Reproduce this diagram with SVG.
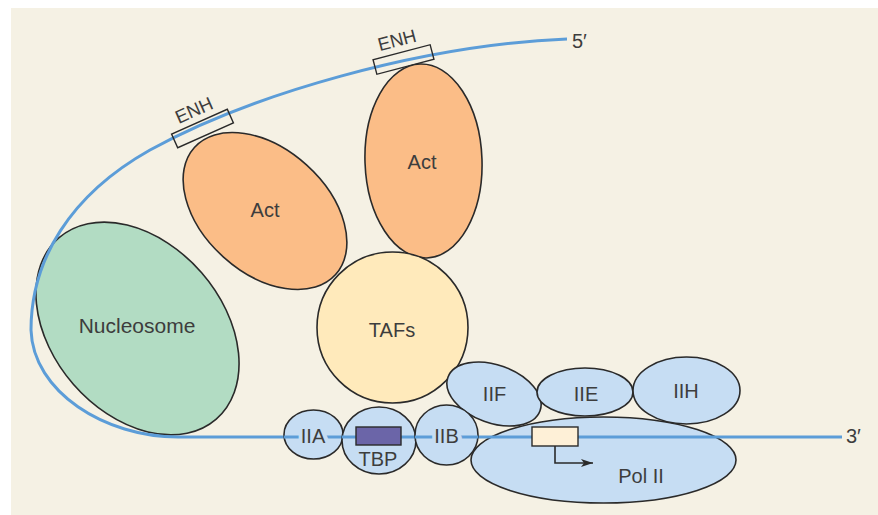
<svg xmlns="http://www.w3.org/2000/svg" width="878" height="515" viewBox="0 0 878 515">
  <defs>
    <style>
      .shape { stroke: #2a2a2a; stroke-width: 1.6; }
      .act { fill: #fbbd87; }
      .nuc { fill: #b2dcc3; }
      .taf { fill: #ffeabb; }
      .gtf { fill: #c6ddf3; }
      .dna { fill: none; stroke: #5c9dd8; stroke-width: 3; }
      .lbl { font-family: "Liberation Sans", Arial, sans-serif; font-size: 20px; fill: #3d3d3d; text-anchor: middle; }
      .enh { font-size: 18.5px; }
      .halo { stroke: #c6ddf3; stroke-width: 8; paint-order: stroke; }
      .box { fill: none; stroke: #2a2a2a; stroke-width: 1.4; }
    </style>
    <marker id="arrowhead" viewBox="0 0 12 8" refX="12" refY="4" markerWidth="12" markerHeight="8" markerUnits="userSpaceOnUse" orient="auto">
      <path d="M0,0 L12,4 L0,8 L3,4 Z" fill="#2a2a2a"/>
    </marker>
  </defs>

  <!-- panel background -->
  <rect x="11" y="8" width="867" height="507" fill="#f5f1e4"/>

  <!-- large complexes behind the DNA -->
  <g id="nucleosome">
    <ellipse class="shape nuc" cx="137.5" cy="328.5" rx="120" ry="85" transform="rotate(49 137.5 328.5)"/>
    <text class="lbl" x="137" y="333" style="font-size:21px">Nucleosome</text>
  </g>

  <g id="pol2">
    <ellipse class="shape gtf" cx="603.5" cy="460" rx="132.5" ry="43"/>
    <text class="lbl" x="641" y="483">Pol II</text>
  </g>

  <!-- DNA strand: 5' end wraps round the nucleosome to the 3' end -->
  <g id="connectors">
    <path class="dna" d="M567,39 C420,45 250,95 150,150 C70,195 31,260 31,330 C33,392 105,437 178,437 L842,437"/>
  </g>

  <g id="enh1">
    <rect class="box" x="172" y="121" width="61" height="15" transform="rotate(-24 202.5 128.5)"/>
    <text class="lbl enh" x="194" y="116.5" transform="rotate(-24 194 110)">ENH</text>
  </g>

  <g id="enh2">
    <rect class="box" x="374" y="52" width="59" height="15" transform="rotate(-14.7 403.5 59.5)"/>
    <text class="lbl enh" x="397" y="46.5" transform="rotate(-14.7 397 40)">ENH</text>
  </g>

  <g id="act1">
    <ellipse class="shape act" cx="265" cy="211" rx="95" ry="62" transform="rotate(42 265 211)"/>
    <text class="lbl" x="265" y="217">Act</text>
  </g>

  <g id="act2">
    <ellipse class="shape act" cx="423.5" cy="161" rx="58.5" ry="97" transform="rotate(-2 423.5 161)"/>
    <text class="lbl" x="422" y="169">Act</text>
  </g>

  <g id="tafs">
    <circle class="shape taf" cx="392.5" cy="327.5" r="75.5"/>
    <text class="lbl" x="392" y="337">TAFs</text>
  </g>

  <g id="iif">
    <ellipse class="shape gtf" cx="494" cy="394" rx="49" ry="29" transform="rotate(20 494 394)"/>
    <text class="lbl" x="494.5" y="401">IIF</text>
  </g>

  <g id="iie">
    <ellipse class="shape gtf" cx="585" cy="392" rx="48" ry="24"/>
    <text class="lbl" x="586" y="401">IIE</text>
  </g>

  <g id="iih">
    <ellipse class="shape gtf" cx="686.5" cy="390.5" rx="53.5" ry="33.5"/>
    <text class="lbl" x="686" y="398">IIH</text>
  </g>

  <!-- general factors sitting on the promoter; DNA runs through them -->
  <g id="iia">
    <ellipse class="shape gtf" cx="313.5" cy="434.5" rx="29.5" ry="24.5"/>
    <line class="dna" x1="284" y1="437" x2="343" y2="437"/>
    <text class="lbl halo" x="313" y="443">IIA</text>
  </g>

  <g id="tbp">
    <ellipse class="shape gtf" cx="379" cy="440.5" rx="37" ry="33.5"/>
    <line class="dna" x1="342" y1="437" x2="416" y2="437"/>
    <rect x="356" y="427" width="45" height="18" fill="#6b65a8" stroke="#2a2a2a" stroke-width="1.4"/>
    <text class="lbl" x="378" y="466">TBP</text>
  </g>

  <g id="iib">
    <ellipse class="shape gtf" cx="446.5" cy="435" rx="31.5" ry="30"/>
    <line class="dna" x1="415" y1="437" x2="478" y2="437"/>
    <text class="lbl halo" x="446.5" y="443">IIB</text>
  </g>

  <g id="promoter">
    <rect x="532" y="427" width="46" height="19" fill="#fef0d7" stroke="#2a2a2a" stroke-width="1.4"/>
    <path d="M555,446 L555,463 L593,463" fill="none" stroke="#2a2a2a" stroke-width="1.6" marker-end="url(#arrowhead)"/>
  </g>

  <!-- strand ends -->
  <text class="lbl" x="572" y="48" style="text-anchor:start">5′</text>
  <text class="lbl" x="846" y="443" style="text-anchor:start">3′</text>
</svg>
